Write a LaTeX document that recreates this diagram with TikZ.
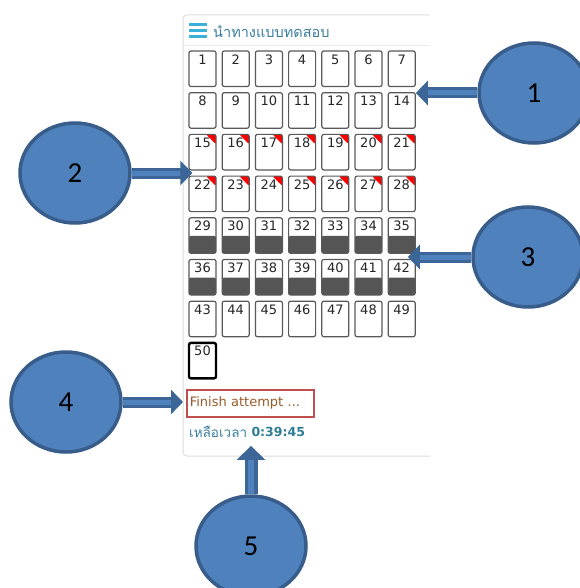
\documentclass[tikz,border=0pt]{standalone}
\usepackage{fontspec}
\setmainfont{DejaVu Sans}
\newfontfamily\thaifont[Script=Thai]{Loma}
\newfontfamily\callfont{Carlito}
\usepackage{tikz}
\usetikzlibrary{calc,positioning,shapes.geometric,arrows.meta}
\definecolor{callfill}{HTML}{4F81BD}
\definecolor{calldraw}{HTML}{385D8A}
\definecolor{arrowdark}{HTML}{3C6698}
\definecolor{panelline}{HTML}{DDDDDD}
\definecolor{navblue}{HTML}{3BB0D8}
\definecolor{navtext}{HTML}{3B7FA0}
\definecolor{timetext}{HTML}{2F7C96}
\definecolor{finishred}{HTML}{C0504D}
\definecolor{finishtext}{HTML}{9A5A28}
\definecolor{donegray}{HTML}{555555}
\tikzstyle{qbtn}   = [rectangle, draw=black!65, line width=1.2pt, rounded corners=2pt,
                      fill=white, minimum width=27pt, minimum height=35.5pt, inner sep=0pt]
\tikzstyle{qplain} = [qbtn]
\tikzstyle{qflag}  = [qbtn, path picture={
                        \fill[red] ([xshift=-10pt]path picture bounding box.north east)
                          -- (path picture bounding box.north east)
                          -- ([yshift=-10pt]path picture bounding box.north east) -- cycle;}]
\tikzstyle{qdone}  = [qbtn, path picture={
                        \fill[donegray] (path picture bounding box.south west)
                          rectangle ([yshift=17.5pt]path picture bounding box.south east);}]
\tikzstyle{qcur}   = [qbtn, draw=black, line width=2.4pt]
\tikzstyle{qnum}   = [inner sep=0pt, anchor=center, text=black!85, font=\fontsize{13}{13}\selectfont]
\tikzstyle{callout} = [ellipse, fill=callfill, draw=calldraw, line width=3.5pt,
                       minimum width=110pt, minimum height=100pt,
                       font=\callfont\fontsize{29}{30}\selectfont]
\tikzstyle{blockarrow} = [draw=arrowdark, line width=3pt, double=callfill, double distance=5pt,
                          -{Triangle[length=12pt, width=24pt]}]
\tikzstyle{bigarrow} = [blockarrow, line width=3.5pt, double distance=6pt,
                        -{Triangle[length=14pt, width=28pt]}]

\begin{document}
\begin{tikzpicture}[x=1pt, y=-1pt]
		\useasboundingbox (0,0) rectangle (579,588);
		\fill[white] (0,0) rectangle (579,588);

		% quiz navigation panel, cut off on the right
		\begin{scope}
			\clip (170,5) rectangle (430,470);
			\draw[panelline, line width=1pt, rounded corners=4pt] (183,15) rectangle (460,456);
			\draw[black!8, line width=1pt] (183,46) -- (460,46);
		\end{scope}
		\foreach \y in {25,31,37}
			\draw[navblue, line width=3pt] (189,\y) -- (207,\y);
		\node[anchor=west, inner sep=0pt, text=navtext, font=\thaifont\fontsize{14.5}{16}\selectfont]
			(navtitle) at (213,32) {นำทางแบบทดสอบ};

		\foreach \n in {1,...,50}{
			\pgfmathtruncatemacro\col{mod(\n-1,7)}
			\pgfmathtruncatemacro\row{(\n-1)/7}
			\pgfmathsetmacro\qx{202.5+33.2*\col}
			\pgfmathsetmacro\qy{68.75+41.7*\row}
			\ifcase\row \def\qs{qplain}\or\def\qs{qplain}\or\def\qs{qflag}\or\def\qs{qflag}%
			\or\def\qs{qdone}\or\def\qs{qdone}\or\def\qs{qplain}\or\def\qs{qcur}\fi
			\node[\qs] (q\n) at (\qx,\qy) {};
			\node[qnum] (n\n) at ([yshift=-9pt]q\n.north) {\n};
		}

		\node[draw=finishred, line width=1.6pt, minimum width=127pt, minimum height=27pt,
			text width=121pt, inner sep=0pt, text=finishtext, font=\fontsize{13}{15}\selectfont,
			anchor=north west] (finish) at (186,389) {Finish attempt ...};
		\node[anchor=west, inner sep=0pt, text=navtext, font=\thaifont\fontsize{13.5}{15}\selectfont]
			(timelabel) at (189,432) {เหลือเวลา};
		\node[right=4pt of timelabel, inner sep=0pt, text=timetext,
			font=\bfseries\fontsize{12.5}{15}\selectfont] (timeleft) {0:39:45};

		% callouts
		\node[callout] (c1) at (534,93) {1};
		\node[callout] (c2) at (75,173) {2};
		\node[callout] (c3) at (528,257) {3};
		\node[callout] (c4) at (66,402) {4};
		\node[callout] (c5) at (251,546) {5};

		\coordinate (t1) at (q14.north east |- c1);
		\coordinate (t2) at ($(q22.west |- c2)+(4,0)$);
		\coordinate (t3) at ($(q42.east |- c3)+(-8,0)$);
		\coordinate (t4) at ($(finish.west |- c4)+(-3,0)$);
		\coordinate (t5) at ($(timeleft.south -| c5)+(0,9)$);

		\draw[blockarrow] (c1) -- (t1);
		\draw[blockarrow] (c2) -- (t2);
		\draw[blockarrow] (c3) -- (t3);
		\draw[blockarrow] (c4) -- (t4);
		\draw[bigarrow] (c5) -- (t5);
	\end{tikzpicture}
\end{document}
